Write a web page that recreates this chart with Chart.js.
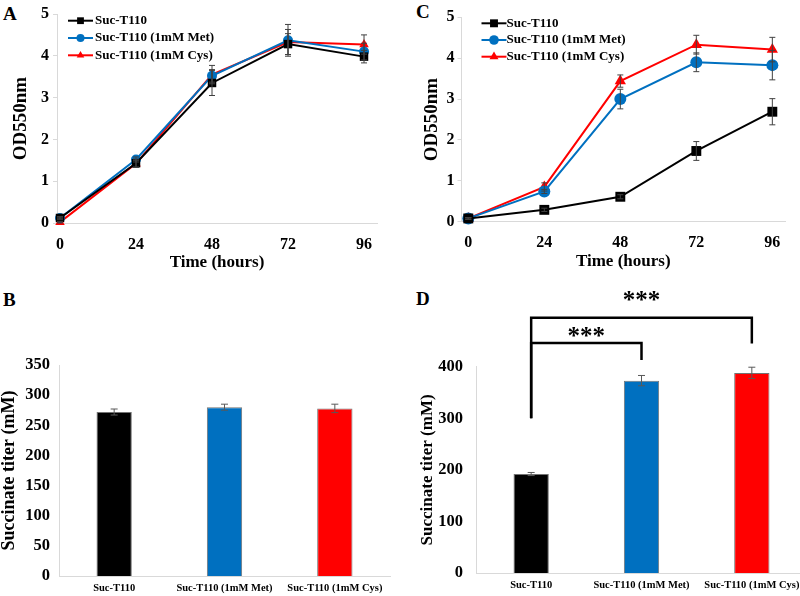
<!DOCTYPE html>
<html>
<head>
<meta charset="utf-8">
<script src="https://cdn.jsdelivr.net/npm/chart.js@4.4.0/dist/chart.umd.min.js"></script>
<style>
  body { margin: 0; width: 800px; height: 596px; overflow: hidden; background: #fff; position: relative; }
  .panel { position: absolute; }
  .tag { position: absolute; font: bold 19px "Liberation Serif", "Times New Roman", serif; color: #000; }
</style>
</head>
<body>
<div class="tag" style="left:3px;top:3px">A</div>
<div class="tag" style="left:416px;top:1px">C</div>
<div class="tag" style="left:3px;top:289px">B</div>
<div class="tag" style="left:416px;top:288px">D</div>

<div class="panel" style="left:0;top:0;width:400px;height:290px"><canvas id="chartA"></canvas></div>
<div class="panel" style="left:400px;top:0;width:400px;height:290px"><canvas id="chartC"></canvas></div>
<div class="panel" style="left:0;top:300px;width:400px;height:296px"><canvas id="chartB"></canvas></div>
<div class="panel" style="left:400px;top:285px;width:410px;height:311px"><canvas id="chartD"></canvas></div>

<script>
// growth curves (A, C)
const hours = [0, 24, 48, 72, 96];
const seriesNames = ["Suc-T110", "Suc-T110 (1mM Met)", "Suc-T110 (1mM Cys)"];

const aCtrl = [0.12, 1.43, 3.35, 4.28, 3.98];
const aCtrlErr = [0.03, 0.1, 0.3, 0.25, 0.15];
const aMet = [0.12, 1.52, 3.52, 4.37, 4.1];
const aMetErr = [0.02, 0.06, 0.15, 0.38, 0.2];
const aCys = [0.02, 1.42, 3.55, 4.33, 4.27];
const aCysErr = [0.02, 0.08, 0.22, 0.3, 0.23];

const cCtrl = [0.08, 0.29, 0.61, 1.73, 2.69];
const cCtrlErr = [0.02, 0.04, 0.05, 0.23, 0.32];
const cMet = [0.08, 0.74, 3.0, 3.9, 3.83];
const cMetErr = [0.02, 0.05, 0.24, 0.23, 0.36];
const cCys = [0.08, 0.85, 3.44, 4.33, 4.21];
const cCysErr = [0.02, 0.1, 0.15, 0.23, 0.3];

// succinate titers (B, D)
const barLabels = ["Suc-T110", "Suc-T110 (1mM Met)", "Suc-T110 (1mM Cys)"];
const titerB = [272, 280, 278];
const titerBErr = [5, 5, 7];
const titerD = [192, 373, 388];
const titerDErr = [3, 10, 11];

// significance brackets on D
const sigFrom = [0, 0];
const sigTo = [1, 2];
const sigBase = [300, 300];
const sigTop = [446, 495];
const sigEnd = [413, 445];
const sigText = ["***", "***"];
const sigTextAt = [444, 514];

const lineColors = ["#000000", "#0070C0", "#FF0000"];
const markers = ["rect", "circle", "triangle"];
const axisGray = "#d9d9d9";
const serif = '"Liberation Serif", "Times New Roman", serif';

Chart.defaults.font.family = serif;
Chart.defaults.font.weight = "bold";
Chart.defaults.color = "#000";
Chart.defaults.animation = false;
Chart.defaults.plugins.legend.display = false;
Chart.defaults.plugins.tooltip.enabled = false;

const errorBars = {
  id: "errorBars",
  afterDatasetsDraw(chart, args, opts) {
    const ctx = chart.ctx;
    const yScale = chart.scales.y;
    chart.data.datasets.forEach((ds, i) => {
      if (!ds.errors) return;
      const meta = chart.getDatasetMeta(i);
      ctx.save();
      ctx.strokeStyle = opts.color || "#404040";
      ctx.lineWidth = 1;
      meta.data.forEach((el, j) => {
        const v = meta._parsed[j].y;
        const e = ds.errors[j];
        const top = yScale.getPixelForValue(v + e);
        const bot = yScale.getPixelForValue(v - e);
        const w = opts.cap || 3;
        ctx.beginPath();
        ctx.moveTo(el.x, top); ctx.lineTo(el.x, bot);
        ctx.moveTo(el.x - w, top); ctx.lineTo(el.x + w, top);
        ctx.moveTo(el.x - w, bot); ctx.lineTo(el.x + w, bot);
        ctx.stroke();
      });
      ctx.restore();
    });
  }
};

const lineLegend = {
  id: "lineLegend",
  afterDraw(chart, args, opts) {
    const { ctx, chartArea } = chart;
    ctx.save();
    ctx.font = "bold 13px " + serif;
    ctx.textBaseline = "middle";
    chart.data.datasets.forEach((ds, i) => {
      const x = chartArea.left + opts.left;
      const y = chartArea.top + opts.top + i * opts.gap;
      ctx.strokeStyle = ds.borderColor;
      ctx.lineWidth = 2;
      ctx.beginPath(); ctx.moveTo(x, y); ctx.lineTo(x + 25, y); ctx.stroke();
      ctx.fillStyle = ds.backgroundColor;
      Chart.helpers.drawPoint(ctx, { pointStyle: ds.pointStyle, radius: ds.pointRadius * 0.8, rotation: 0, borderWidth: 0 }, x + 12.5, y);
      ctx.fillStyle = "#000";
      ctx.fillText(ds.label, x + opts.text, y);
    });
    ctx.restore();
  }
};

const brackets = {
  id: "brackets",
  afterDraw(chart) {
    const { ctx, scales: { x, y } } = chart;
    ctx.save();
    ctx.strokeStyle = "#000";
    ctx.lineWidth = 2.5;
    ctx.fillStyle = "#000";
    ctx.font = "bold 25px " + serif;
    ctx.textAlign = "center";
    ctx.textBaseline = "alphabetic";
    sigFrom.forEach((a, i) => {
      const x1 = x.getPixelForValue(a);
      const x2 = x.getPixelForValue(sigTo[i]);
      ctx.beginPath();
      ctx.moveTo(x1, y.getPixelForValue(sigBase[i]));
      ctx.lineTo(x1, y.getPixelForValue(sigTop[i]));
      ctx.lineTo(x2, y.getPixelForValue(sigTop[i]));
      ctx.lineTo(x2, y.getPixelForValue(sigEnd[i]));
      ctx.stroke();
      ctx.fillText(sigText[i], (x1 + x2) / 2, y.getPixelForValue(sigTextAt[i]));
    });
    ctx.restore();
  }
};

function lineChart(id, values, errors, sizes, box) {
  return new Chart(document.getElementById(id), {
    type: "line",
    data: {
      datasets: seriesNames.map((name, i) => ({
        label: name,
        data: hours.map((h, j) => ({ x: h, y: values[i][j] })),
        errors: errors[i],
        borderColor: lineColors[i],
        backgroundColor: lineColors[i],
        borderWidth: 2,
        pointStyle: markers[i],
        pointRadius: sizes[i],
        pointBorderWidth: 0,
        clip: false
      }))
    },
    options: {
      responsive: true,
      maintainAspectRatio: false,
      layout: { padding: { left: 0, top: box.top, right: box.right, bottom: 0 } },
      scales: {
        x: {
          type: "linear", min: box.xMin, max: box.xMax,
          grid: { display: false, drawTicks: false },
          border: { color: axisGray },
          ticks: { padding: 12, font: { size: 16 } },
          afterBuildTicks: s => { s.ticks = hours.map(v => ({ value: v })); },
          afterFit: s => { s.height = box.xHeight; },
          title: { display: true, text: "Time (hours)", font: { size: 17 }, padding: { top: 0, bottom: box.xTitlePad } }
        },
        y: {
          min: 0, max: 5,
          grid: { display: true, drawOnChartArea: false, drawTicks: true, tickLength: 4, color: axisGray },
          border: { color: axisGray },
          ticks: { stepSize: 1, padding: box.yTickPad - 4, font: { size: 16 } },
          afterFit: s => { s.width = box.yWidth; },
          title: { display: true, text: "OD550nm", font: { size: 19, lineHeight: 1 }, padding: { top: box.yTitlePad, bottom: 0 } }
        }
      },
      plugins: {
        errorBars: { color: "#404040", cap: 3 },
        lineLegend: box.legend
      }
    },
    plugins: [errorBars, lineLegend]
  });
}

function barChart(id, values, errors, box, extra) {
  return new Chart(document.getElementById(id), {
    type: "bar",
    data: {
      labels: barLabels,
      datasets: [{
        data: values,
        errors: errors,
        backgroundColor: lineColors,
        borderColor: "rgba(0,0,0,0.55)",
        borderWidth: 1,
        categoryPercentage: 1,
        barPercentage: 0.32
      }]
    },
    options: {
      responsive: true,
      maintainAspectRatio: false,
      layout: { padding: { left: 0, top: box.top, right: box.right, bottom: 0 } },
      scales: {
        x: {
          grid: { display: false, drawTicks: false },
          border: { color: axisGray },
          ticks: { padding: 6, font: { size: 10.5 } },
          afterFit: s => { s.height = 20; }
        },
        y: {
          min: 0, max: box.yMax,
          grid: { display: false, drawTicks: false },
          border: { color: axisGray },
          ticks: { stepSize: box.step, padding: box.yTickPad, font: { size: 16.5 } },
          afterFit: s => { s.width = box.yWidth; },
          title: { display: true, text: "Succinate titer (mM)", font: { size: box.titleSize, lineHeight: 1 }, padding: { top: box.yTitlePad, bottom: 0 } }
        }
      },
      plugins: { errorBars: { color: "#595959", cap: 3.5 } }
    },
    plugins: [errorBars].concat(extra || [])
  });
}

lineChart("chartA", [aCtrl, aMet, aCys], [aCtrlErr, aMetErr, aCysErr], [6, 5, 5.5], {
  top: 14, right: 23, xMin: -0.95, xMax: 100.1, xHeight: 67, xTitlePad: 17,
  yWidth: 57, yTickPad: 8, yTitlePad: 12,
  legend: { left: 11, top: 6.7, gap: 17.3, text: 27 }
});

lineChart("chartC", [cCtrl, cMet, cCys], [cCtrlErr, cMetErr, cCysErr], [7, 6, 6.5], {
  top: 17.3, right: 15, xMin: -2.15, xMax: 100, xHeight: 68.3, xTitlePad: 18,
  yWidth: 61.5, yTickPad: 7, yTitlePad: 23,
  legend: { left: 20, top: 6, gap: 16.7, text: 25 }
});

barChart("chartB", titerB, titerBErr, {
  top: 65, right: 10, yMax: 350, step: 50, yWidth: 59, yTickPad: 9, yTitlePad: 0, titleSize: 18
});

barChart("chartD", titerD, titerDErr, {
  top: 81.7, right: 3, yMax: 400, step: 100, yWidth: 76, yTickPad: 13, yTitlePad: 19, titleSize: 17
}, [brackets]);
</script>
</body>
</html>
